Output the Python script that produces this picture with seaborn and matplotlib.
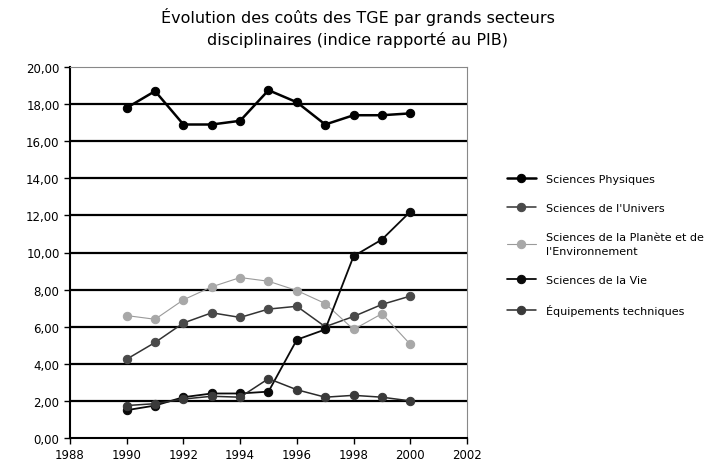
import matplotlib
matplotlib.use("Agg")
import matplotlib.pyplot as plt
import seaborn as sns
import pandas as pd
from matplotlib.ticker import FuncFormatter, MultipleLocator

years = [1990, 1991, 1992, 1993, 1994, 1995, 1996, 1997, 1998, 1999, 2000]
physiques = [17.8, 18.7, 16.9, 16.9, 17.1, 18.75, 18.1, 16.9, 17.4, 17.4, 17.5]
univers = [4.25, 5.15, 6.2, 6.75, 6.5, 6.95, 7.1, 6.0, 6.55, 7.2, 7.65]
planete = [6.6, 6.4, 7.45, 8.15, 8.65, 8.45, 7.95, 7.25, 5.85, 6.7, 5.05]
vie = [1.5, 1.75, 2.2, 2.4, 2.4, 2.5, 5.3, 5.85, 9.8, 10.7, 12.2]
equipements = [1.75, 1.85, 2.1, 2.25, 2.2, 3.2, 2.6, 2.2, 2.3, 2.2, 2.0]

labels = ["Sciences Physiques", "Sciences de l'Univers",
          "Sciences de la Planète et de\nl'Environnement",
          "Sciences de la Vie", "Équipements techniques"]
series = [physiques, univers, planete, vie, equipements]
colors = ["#000000", "#333333", "#9a9a9a", "#0a0a0a", "#2a2a2a"]
mfaces = ["#000000", "#4a4a4a", "#a8a8a8", "#0a0a0a", "#3a3a3a"]
widths = [1.8, 1.1, 0.8, 1.3, 1.1]

sns.set_theme(style="white")
plt.rcParams["font.family"] = ["DejaVu Sans"]
plt.rcParams["text.color"] = "black"

fig = plt.figure(figsize=(7.11, 4.64), dpi=100)
ax = fig.add_axes([70 / 711, 1 - 439 / 464, (467 - 70) / 711, (439 - 68) / 464])

for lab, vals, c, mf, w in zip(labels, series, colors, mfaces, widths):
    df = pd.DataFrame({"year": years, "value": vals})
    sns.lineplot(data=df, x="year", y="value", ax=ax, color=c, linewidth=w,
                 marker="o", markersize=6, markeredgecolor=mf,
                 markerfacecolor=mf, label=lab, zorder=3)

ax.set_xlim(1988, 2002)
ax.set_ylim(0, 20)
ax.xaxis.set_major_locator(MultipleLocator(2))
ax.yaxis.set_major_locator(MultipleLocator(2))
ax.yaxis.set_major_formatter(FuncFormatter(lambda v, p: f"{v:.2f}".replace(".", ",")))
ax.set_xlabel("")
ax.set_ylabel("")

ax.grid(False)
for yv in range(2, 20, 2):
    ax.axhline(yv, color="black", linewidth=1.6, zorder=1)

for s in ["top", "right"]:
    ax.spines[s].set_color("#888888")
    ax.spines[s].set_linewidth(0.8)
ax.spines["left"].set_color("black")
ax.spines["left"].set_linewidth(1.5)
ax.spines["bottom"].set_color("black")
ax.spines["bottom"].set_linewidth(1.5)

ax.tick_params(axis="both", direction="out", length=4, width=1, colors="black",
               labelsize=8.5, left=True, bottom=True)

fig.suptitle("Évolution des coûts des TGE par grands secteurs\ndisciplinaires (indice rapporté au PIB)",
             x=0.503, y=0.982, fontsize=11.5, linespacing=1.4, color="black")

handles, labs = ax.get_legend_handles_labels()
leg = ax.legend(handles, labs, loc="center left", bbox_to_anchor=(497 / 711, 1 - 246 / 464),
                bbox_transform=fig.transFigure, frameon=False, fontsize=8.0,
                labelspacing=1.7, handlelength=2.6, handletextpad=0.9)
for t in leg.get_texts():
    t.set_linespacing(1.6)

fig.savefig("out.png", dpi=100)
